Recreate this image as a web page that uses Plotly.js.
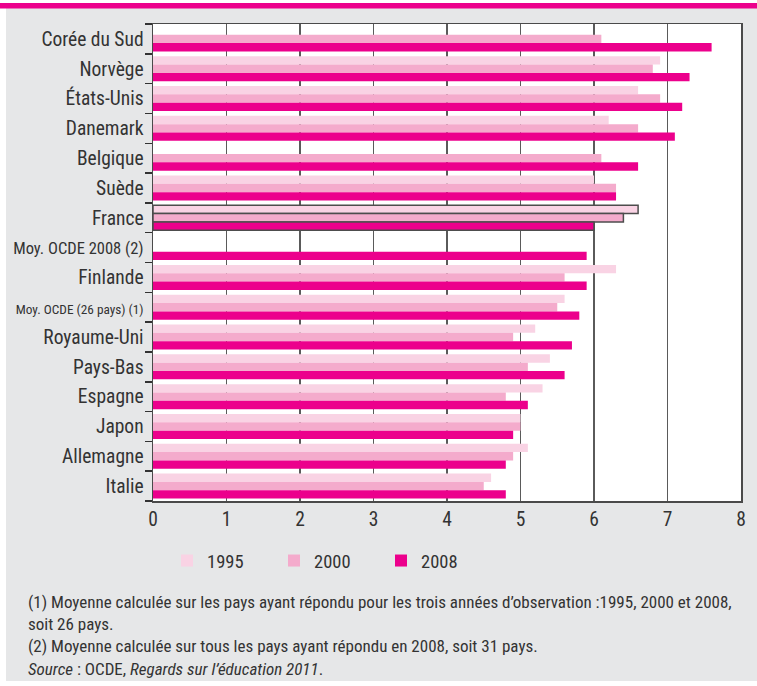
<!DOCTYPE html>
<html>
<head>
<meta charset="utf-8">
<script src="https://cdn.plot.ly/plotly-3.0.1.min.js"></script>
<style>
  html, body { margin: 0; padding: 0; background: #ffffff; }
  #chart { width: 757px; height: 686px; }
</style>
</head>
<body>
<div id="chart"></div>
<script>
// ---- Data ----
const categories = [
  "Corée du Sud", "Norvège", "États-Unis", "Danemark", "Belgique", "Suède",
  "France", "Moy. OCDE 2008 (2)", "Finlande", "Moy. OCDE (26 pays) (1)",
  "Royaume-Uni", "Pays-Bas", "Espagne", "Japon", "Allemagne", "Italie"
];
const tickLabels = [
  "Corée du Sud", "Norvège", "États-Unis", "Danemark", "Belgique", "Suède",
  "France", "<span style=\"font-size:16.5px\">Moy. OCDE 2008 (2)</span>", "Finlande",
  "<span style=\"font-size:13.3px\">Moy. OCDE (26 pays) (1)</span>",
  "Royaume-Uni", "Pays-Bas", "Espagne", "Japon", "Allemagne", "Italie"
];
const seriesNames = ["1995", "2000", "2008"];
const values1995 = [null, 6.9, 6.6, 6.2, null, 6.0, 6.6, null, 6.3, 5.6, 5.2, 5.4, 5.3, 5.0, 5.1, 4.6];
const values2000 = [6.1, 6.8, 6.9, 6.6, 6.1, 6.3, 6.4, null, 5.6, 5.5, 4.9, 5.1, 4.8, 5.0, 4.9, 4.5];
const values2008 = [7.6, 7.3, 7.2, 7.1, 6.6, 6.3, 6.0, 5.9, 5.9, 5.8, 5.7, 5.6, 5.1, 4.9, 4.8, 4.8];
const xTicks = [0, 1, 2, 3, 4, 5, 6, 7, 8];
const highlighted = "France";

const footnotes = [
  "(1) Moyenne calculée sur les pays ayant répondu pour les trois années d’observation :1995, 2000 et 2008,<br>soit 26 pays.",
  "(2) Moyenne calculée sur tous les pays ayant répondu en 2008, soit 31 pays.",
  "<i>Source</i> : OCDE, <i>Regards sur l’éducation 2011</i>."
];

// ---- Styling ----
const FONT = "'Liberation Sans Narrow', 'Roboto Condensed', 'Arial Narrow', 'DejaVu Sans Condensed', sans-serif";
const colors = ["#f9d3e4", "#f4abcc", "#ec008c"];
const W = 757, H = 686;
const M = { l: 153, r: 16, t: 24, b: 185 };
const PW = W - M.l - M.r, PH = H - M.t - M.b;
const px2x = p => (p - M.l) / PW;
const px2y = p => (H - M.b - p) / PH;

const lineColors = categories.map(c => c === highlighted ? "#4d4d4d" : "rgba(0,0,0,0)");
const lineWidths = categories.map(c => c === highlighted ? 1.5 : 0);

const allValues = [values1995, values2000, values2008];
const traces = allValues.map((vals, i) => ({
  type: "bar",
  orientation: "h",
  name: seriesNames[i],
  y: categories,
  x: vals,
  marker: { color: colors[i], line: { color: lineColors, width: lineWidths } },
  hoverinfo: "x+name"
}));

const footTop = [590, 634, 657];
const annotations = footnotes.map((t, i) => ({
  text: t, xref: "paper", yref: "paper",
  x: px2x(26), y: px2y(footTop[i]), xanchor: "left", yanchor: "top", align: "left",
  showarrow: false, font: { family: FONT, size: 17, color: "#333333" }
}));

const layout = {
  width: W, height: H,
  margin: M,
  paper_bgcolor: "#ffffff",
  plot_bgcolor: "#ffffff",
  font: { family: FONT, color: "#333333", size: 18 },
  barmode: "group",
  bargap: 0.16,
  bargroupgap: 0,
  xaxis: {
    range: [0, 8],
    tickvals: xTicks,
    showgrid: true, gridcolor: "#5a5a5a", gridwidth: 1.3,
    showline: true, linecolor: "#4a4a4a", linewidth: 1.5, mirror: true,
    zeroline: false, ticks: "",
    tickfont: { size: 19.5, color: "#333333" },
    fixedrange: true
  },
  yaxis: {
    type: "category",
    autorange: "reversed",
    tickvals: categories,
    ticktext: tickLabels,
    tickson: "boundaries",
    ticks: "outside", ticklen: 7, tickwidth: 1.5, tickcolor: "#333333",
    ticklabelstandoff: 4,
    showgrid: false,
    showline: true, linecolor: "#4a4a4a", linewidth: 1.5, mirror: true,
    tickfont: { size: 19.5, color: "#333333" },
    fixedrange: true
  },
  showlegend: true,
  legend: {
    orientation: "h",
    x: px2x(167), y: px2y(542),
    xanchor: "left", yanchor: "top",
    font: { size: 18.5, color: "#333333" },
    bgcolor: "rgba(0,0,0,0)",
    entrywidth: 62,
    traceorder: "normal"
  },
  shapes: [
    { type: "rect", xref: "paper", yref: "paper", layer: "below",
      x0: px2x(6), x1: px2x(757), y0: px2y(681), y1: px2y(8),
      fillcolor: "#e6e7e8", line: { width: 0 } },
    { type: "rect", xref: "paper", yref: "paper", layer: "below",
      x0: 0, x1: 1, y0: 0, y1: 1,
      fillcolor: "#ffffff", line: { width: 0 } },
    { type: "rect", xref: "paper", yref: "paper", layer: "above",
      x0: px2x(0), x1: px2x(757), y0: px2y(8.5), y1: px2y(3),
      fillcolor: "#ec008c", line: { width: 0 } }
  ],
  annotations: annotations
};

Plotly.newPlot("chart", traces, layout, { displayModeBar: false, staticPlot: true });
</script>
</body>
</html>
